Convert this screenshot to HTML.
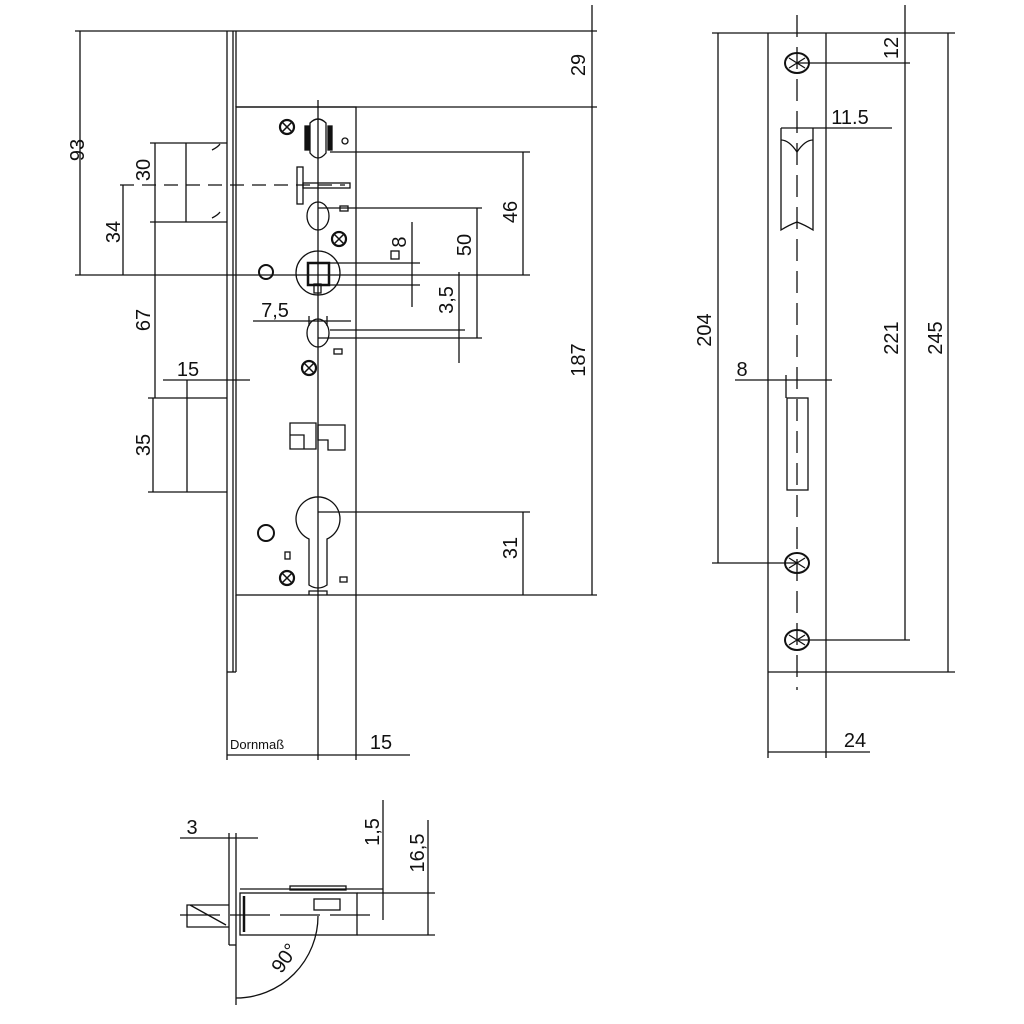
<!DOCTYPE html>
<html><head><meta charset="utf-8"><style>
html,body{margin:0;padding:0;background:#fff}
svg{display:block}
text{font-family:"Liberation Sans",sans-serif;font-size:20px;fill:#111}
</style></head><body>
<svg width="1024" height="1024" viewBox="0 0 1024 1024" xmlns="http://www.w3.org/2000/svg">
<g stroke="#111" stroke-width="1.3" fill="none">
<line x1="75" y1="31" x2="597" y2="31"/>
<line x1="236" y1="107" x2="597" y2="107"/>
<line x1="356" y1="595" x2="597" y2="595"/>
<line x1="592" y1="5" x2="592" y2="595"/>
<line x1="227" y1="31" x2="227" y2="760"/>
<line x1="233" y1="31" x2="233" y2="672"/>
<line x1="236" y1="31" x2="236" y2="107"/>
<line x1="236" y1="595" x2="236" y2="672"/>
<line x1="227" y1="672" x2="236" y2="672"/>
<rect x="236" y="107" width="120" height="488"/>
<line x1="356" y1="595" x2="356" y2="760"/>
<line x1="318" y1="100" x2="318" y2="760"/>
<line x1="80" y1="31" x2="80" y2="275"/>
<line x1="75" y1="275" x2="530" y2="275"/>
<line x1="150" y1="143" x2="227" y2="143"/>
<line x1="150" y1="222" x2="227" y2="222"/>
<line x1="186" y1="143" x2="186" y2="222"/>
<path d="M212 150 q6 -3 8 -6 M212 218 q6 -3 8 -6"/>
<line x1="155" y1="143" x2="155" y2="222"/>
<line x1="120" y1="185" x2="345" y2="185" stroke-dasharray="14 8"/>
<line x1="123" y1="185" x2="123" y2="275"/>
<line x1="148" y1="398" x2="227" y2="398"/>
<line x1="148" y1="492" x2="227" y2="492"/>
<line x1="187" y1="380" x2="187" y2="492"/>
<line x1="155" y1="222" x2="155" y2="398"/>
<line x1="153" y1="398" x2="153" y2="492"/>
<line x1="163" y1="380" x2="250" y2="380"/>
<circle cx="318" cy="273" r="22"/>
<rect x="308" y="263" width="21" height="22" stroke-width="2.5"/>
<rect x="314" y="284" width="7" height="9"/>
<circle cx="266" cy="272" r="7" stroke-width="2"/>
<line x1="330" y1="263" x2="420" y2="263"/>
<line x1="330" y1="285" x2="420" y2="285"/>
<line x1="412" y1="222" x2="412" y2="307"/>
<rect x="391" y="251" width="8" height="8"/>
<ellipse cx="318" cy="216" rx="11" ry="14"/>
<ellipse cx="318" cy="333" rx="11" ry="14"/>
<rect x="340" y="206" width="8" height="5"/>
<rect x="334" y="349" width="8" height="5"/>
<line x1="318" y1="208" x2="482" y2="208"/>
<line x1="318" y1="338" x2="482" y2="338"/>
<line x1="477" y1="208" x2="477" y2="338"/>
<line x1="330" y1="330" x2="465" y2="330"/>
<line x1="459" y1="272" x2="459" y2="363"/>
<line x1="253" y1="321" x2="351" y2="321"/>
<line x1="309" y1="316" x2="309" y2="326"/><line x1="327" y1="316" x2="327" y2="326"/>
<line x1="330" y1="152" x2="530" y2="152"/>
<line x1="523" y1="152" x2="523" y2="275"/>
<path d="M310 123 q8 -8 16 0 v30 q-8 10 -16 0 z"/>
<rect x="305" y="126" width="4" height="24" fill="#111"/>
<rect x="328" y="126" width="4" height="24" fill="#111"/>
<circle cx="345" cy="141" r="3"/>
<rect x="297" y="167" width="6" height="37"/>
<rect x="303" y="183" width="47" height="5"/>
<g stroke-width="2.2">
<circle cx="287" cy="127" r="7"/><circle cx="339" cy="239" r="7"/><circle cx="309" cy="368" r="7"/><circle cx="287" cy="578" r="7"/>
</g>
<g stroke-width="1.5">
<path d="M282 122 l10 10 M292 122 l-10 10 M334 234 l10 10 M344 234 l-10 10 M304 363 l10 10 M314 363 l-10 10 M282 573 l10 10 M292 573 l-10 10"/>
</g>
<path d="M290 423 h26 v26 h-26 z M290 435 h14 v14 M318 425 h27 v25 h-17 v-10 h-10 z"/>
<path d="M309 585 v-46 a22 22 0 1 1 18 0 v46 q-9 6 -18 0 z"/>
<line x1="318" y1="512" x2="530" y2="512"/>
<line x1="523" y1="512" x2="523" y2="595"/>
<circle cx="266" cy="533" r="8" stroke-width="2"/>
<rect x="285" y="552" width="5" height="7"/>
<rect x="340" y="577" width="7" height="5"/>
<path d="M309 595 v-4 h18 v4"/>
<line x1="227" y1="755" x2="410" y2="755"/>
<!-- right view -->
<line x1="712" y1="33" x2="955" y2="33"/>
<line x1="768" y1="672" x2="955" y2="672"/>
<line x1="768" y1="33" x2="768" y2="758"/>
<line x1="826" y1="33" x2="826" y2="758"/>
<line x1="797" y1="15" x2="797" y2="690" stroke-dasharray="22 10"/>
<g stroke-width="2"><ellipse cx="797" cy="63" rx="12" ry="10"/><ellipse cx="797" cy="563" rx="12" ry="10"/><ellipse cx="797" cy="640" rx="12" ry="10"/></g>
<path d="M789 58 l16 10 M805 58 l-16 10 M789 558 l16 10 M805 558 l-16 10 M789 635 l16 10 M805 635 l-16 10"/>
<line x1="797" y1="63" x2="910" y2="63"/>
<line x1="797" y1="640" x2="910" y2="640"/>
<line x1="905" y1="5" x2="905" y2="640"/>
<line x1="948" y1="33" x2="948" y2="672"/>
<line x1="718" y1="33" x2="718" y2="563"/>
<line x1="712" y1="563" x2="797" y2="563"/>
<path d="M781 128 v102 q8 -5 16 -8 q8 3 16 8 v-102"/>
<path d="M781 140 q8 0 16 12 q8 -12 16 -12"/>
<line x1="781" y1="128" x2="892" y2="128"/>
<line x1="735" y1="380" x2="832" y2="380"/>
<rect x="787" y="398" width="21" height="92"/>
<line x1="786" y1="375" x2="786" y2="398"/>
<line x1="768" y1="752" x2="870" y2="752"/>
<!-- bottom view -->
<line x1="229" y1="833" x2="229" y2="945"/>
<line x1="236" y1="833" x2="236" y2="1005"/>
<line x1="229" y1="945" x2="236" y2="945"/>
<rect x="240" y="893" width="117" height="42"/>
<line x1="240" y1="889" x2="383" y2="889"/>
<rect x="290" y="886" width="56" height="4"/>
<rect x="314" y="899" width="26" height="11"/>
<line x1="244" y1="896" x2="244" y2="932" stroke-width="2.5"/>
<path d="M229 905 h-42 v22 h42 M190 905 l36 20"/>
<line x1="180" y1="915" x2="380" y2="915" stroke-dasharray="40 10"/>
<line x1="180" y1="838" x2="258" y2="838"/>
<line x1="383" y1="800" x2="383" y2="920"/>
<line x1="428" y1="820" x2="428" y2="935"/>
<line x1="357" y1="893" x2="435" y2="893"/>
<line x1="357" y1="935" x2="435" y2="935"/>
<path d="M236 998 A82 82 0 0 0 318 916"/>
</g>
<g>
<text transform="translate(84,150) rotate(-90)" text-anchor="middle">93</text>
<text transform="translate(150,170) rotate(-90)" text-anchor="middle">30</text>
<text transform="translate(120,232) rotate(-90)" text-anchor="middle">34</text>
<text transform="translate(150,320) rotate(-90)" text-anchor="middle">67</text>
<text transform="translate(150,445) rotate(-90)" text-anchor="middle">35</text>
<text x="188" y="376" text-anchor="middle">15</text>
<text x="275" y="317" text-anchor="middle">7,5</text>
<text transform="translate(406,242) rotate(-90)" text-anchor="middle">8</text>
<text transform="translate(453,300) rotate(-90)" text-anchor="middle">3,5</text>
<text transform="translate(471,245) rotate(-90)" text-anchor="middle">50</text>
<text transform="translate(517,212) rotate(-90)" text-anchor="middle">46</text>
<text transform="translate(585,65) rotate(-90)" text-anchor="middle">29</text>
<text transform="translate(585,360) rotate(-90)" text-anchor="middle">187</text>
<text transform="translate(517,548) rotate(-90)" text-anchor="middle">31</text>
<text x="230" y="749" style="font-size:13px">Dornmaß</text>
<text x="381" y="749" text-anchor="middle">15</text>
<text transform="translate(898,48) rotate(-90)" text-anchor="middle">12</text>
<text x="850" y="124" text-anchor="middle">11.5</text>
<text transform="translate(711,330) rotate(-90)" text-anchor="middle">204</text>
<text x="742" y="376" text-anchor="middle">8</text>
<text transform="translate(898,338) rotate(-90)" text-anchor="middle">221</text>
<text transform="translate(942,338) rotate(-90)" text-anchor="middle">245</text>
<text x="855" y="747" text-anchor="middle">24</text>
<text x="192" y="834" text-anchor="middle">3</text>
<text transform="translate(379,832) rotate(-90)" text-anchor="middle">1,5</text>
<text transform="translate(424,853) rotate(-90)" text-anchor="middle">16,5</text>
<text transform="translate(290,962) rotate(-55)" text-anchor="middle">90°</text>
</g>
</svg>
</body></html>
